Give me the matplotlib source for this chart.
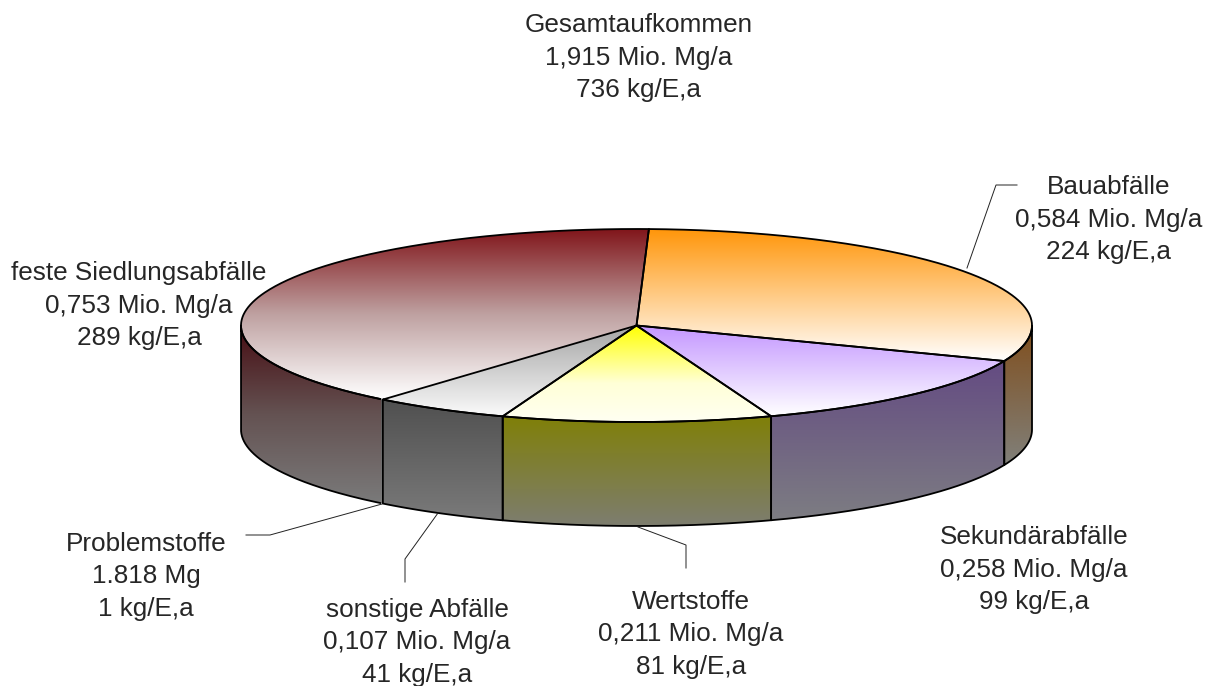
#!/usr/bin/env python3
"""3D pie chart of waste volumes, drawn in pixel coordinates of the reference."""

import matplotlib

matplotlib.use("Agg")
import matplotlib.pyplot as plt
import numpy as np
from matplotlib.patches import PathPatch
from matplotlib.path import Path

plt.rcParams["font.family"] = ["Liberation Sans", "DejaVu Sans"]

# values in Mio. Mg/a, clockwise from the top
categories = [
    "Bauabfälle",
    "Sekundärabfälle",
    "Wertstoffe",
    "sonstige Abfälle",
    "Problemstoffe",
    "feste Siedlungsabfälle",
]
values = [0.584, 0.258, 0.211, 0.107, 0.001818, 0.753]
amounts = [
    "0,584 Mio. Mg/a",
    "0,258 Mio. Mg/a",
    "0,211 Mio. Mg/a",
    "0,107 Mio. Mg/a",
    "1.818 Mg",
    "0,753 Mio. Mg/a",
]
per_head = ["224 kg/E,a", "99 kg/E,a", "81 kg/E,a", "41 kg/E,a", "1 kg/E,a", "289 kg/E,a"]
total_lines = ["Gesamtaufkommen", "1,915 Mio. Mg/a", "736 kg/E,a"]

# pie geometry
CX, CY = 636.5, 325.5
RX, RY = 395.5, 96.5
DEPTH = 104
START = 1.8

# gradient stops: (position, rgb)
TOP_COLORS = [
    [(0, (255, 150, 10)), (1, (255, 255, 255))],
    [(0, (195, 150, 255)), (1, (255, 255, 255))],
    [(0, (255, 255, 0)), (0.6, (255, 255, 215)), (1, (255, 255, 242))],
    [(0, (165, 165, 165)), (1, (250, 250, 250))],
    [(0, (165, 165, 165)), (1, (250, 250, 250))],
    [(0, (128, 20, 25)), (0.5, (190, 160, 160)), (1, (255, 255, 255))],
]
SIDE_COLORS = [
    [(0, (128, 78, 28)), (1, (128, 128, 122))],
    [(0, (100, 75, 130)), (1, (125, 125, 130))],
    [(0, (128, 128, 8)), (1, (125, 125, 112))],
    [(0, (80, 80, 80)), (1, (122, 122, 122))],
    [(0, (80, 80, 80)), (1, (122, 122, 122))],
    [(0, (70, 12, 18)), (0.5, (100, 82, 82)), (1, (122, 122, 122))],
]

LABEL_POS = [(1109, 185), (1034, 535), (691, 600), (417, 608), (146, 542), (139, 271)]
LEADERS = [
    [(967, 268), (996, 185), (1017, 185)],
    None,
    [(638, 527), (686, 545), (686, 568)],
    [(438, 513), (405, 559), (405, 582)],
    [(382, 504), (270, 535), (246, 535)],
    None,
]
LINE_STEP = 32.5
TEXT_COLOR = "#262626"
FONT_SIZE = 18.8
THIN_SLICE = 1.0  # degrees; narrower slices get no outline of their own


def arc(t0, t1, dy=0.0):
    t = np.radians(np.linspace(t0, t1, max(int(abs(t1 - t0)) * 2, 2) + 1))
    return np.column_stack([CX + RX * np.sin(t), CY - RY * np.cos(t) + dy])


def gradient_patch(ax, pts, stops, closed=True, outline=True):
    """Fill a polygon with a vertical gradient; closed=False leaves the last edge undrawn."""
    verts = np.vstack([pts, pts[:1]]) if closed else pts
    clip = PathPatch(Path(np.vstack([pts, pts[:1]]), closed=True), facecolor="none", edgecolor="none", zorder=1)
    ax.add_patch(clip)
    if outline:
        ax.add_patch(
            PathPatch(Path(verts), facecolor="none", edgecolor="black", lw=1.3, joinstyle="round", zorder=3)
        )
    top, bottom = pts[:, 1].min(), pts[:, 1].max()
    pos = np.linspace(0, 1, 256)
    xp = [s[0] for s in stops]
    img = np.column_stack([np.interp(pos, xp, [s[1][c] / 255 for s in stops]) for c in range(3)])
    im = ax.imshow(
        img.reshape(256, 1, 3),
        extent=(pts[:, 0].min(), pts[:, 0].max(), bottom, top),
        origin="upper",
        aspect="auto",
        interpolation="bilinear",
        zorder=2,
    )
    im.set_clip_path(clip)


def draw_lines(ax, x, y, lines):
    for k, line in enumerate(lines):
        ax.text(x, y + 9 + k * LINE_STEP, line, ha="center", va="baseline",
                fontsize=FONT_SIZE, color=TEXT_COLOR)


def main():
    fig = plt.figure(figsize=(12.07, 6.86), dpi=100)
    ax = fig.add_axes([0, 0, 1, 1])

    edges = START + np.concatenate([[0], np.cumsum(values)]) / sum(values) * 360

    for i in range(len(values)):
        lo, hi = edges[i], edges[i + 1]
        thin = hi - lo < THIN_SLICE
        # the slice after a thin one would double the line, so it skips its leading edge
        after_thin = i > 0 and edges[i] - edges[i - 1] < THIN_SLICE
        rim = arc(lo, hi)
        if after_thin:
            gradient_patch(ax, np.vstack([rim, [[CX, CY]]]), TOP_COLORS[i], closed=False)
        else:
            gradient_patch(ax, np.vstack([[[CX, CY]], rim]), TOP_COLORS[i], outline=not thin)

        # only the front half of the wall is visible
        if max(lo, 90) < min(hi, 270):
            t0, t1 = max(lo, 90), min(hi, 270)
            wall = np.vstack([arc(t0, t1), arc(t0, t1, DEPTH)[::-1]])
            gradient_patch(ax, wall, SIDE_COLORS[i], closed=not after_thin, outline=not thin)

    for i, cat in enumerate(categories):
        x, y = LABEL_POS[i]
        draw_lines(ax, x, y, [cat, amounts[i], per_head[i]])
        if LEADERS[i] is not None:
            xs, ys = zip(*LEADERS[i])
            ax.plot(xs, ys, color="#222222", lw=0.7, zorder=4)

    draw_lines(ax, 639, 23, total_lines)

    ax.set_xlim(0, 1207)
    ax.set_ylim(686, 0)
    ax.axis("off")
    fig.savefig("out.png", dpi=100, facecolor="white")
    plt.close(fig)


if __name__ == "__main__":
    main()
